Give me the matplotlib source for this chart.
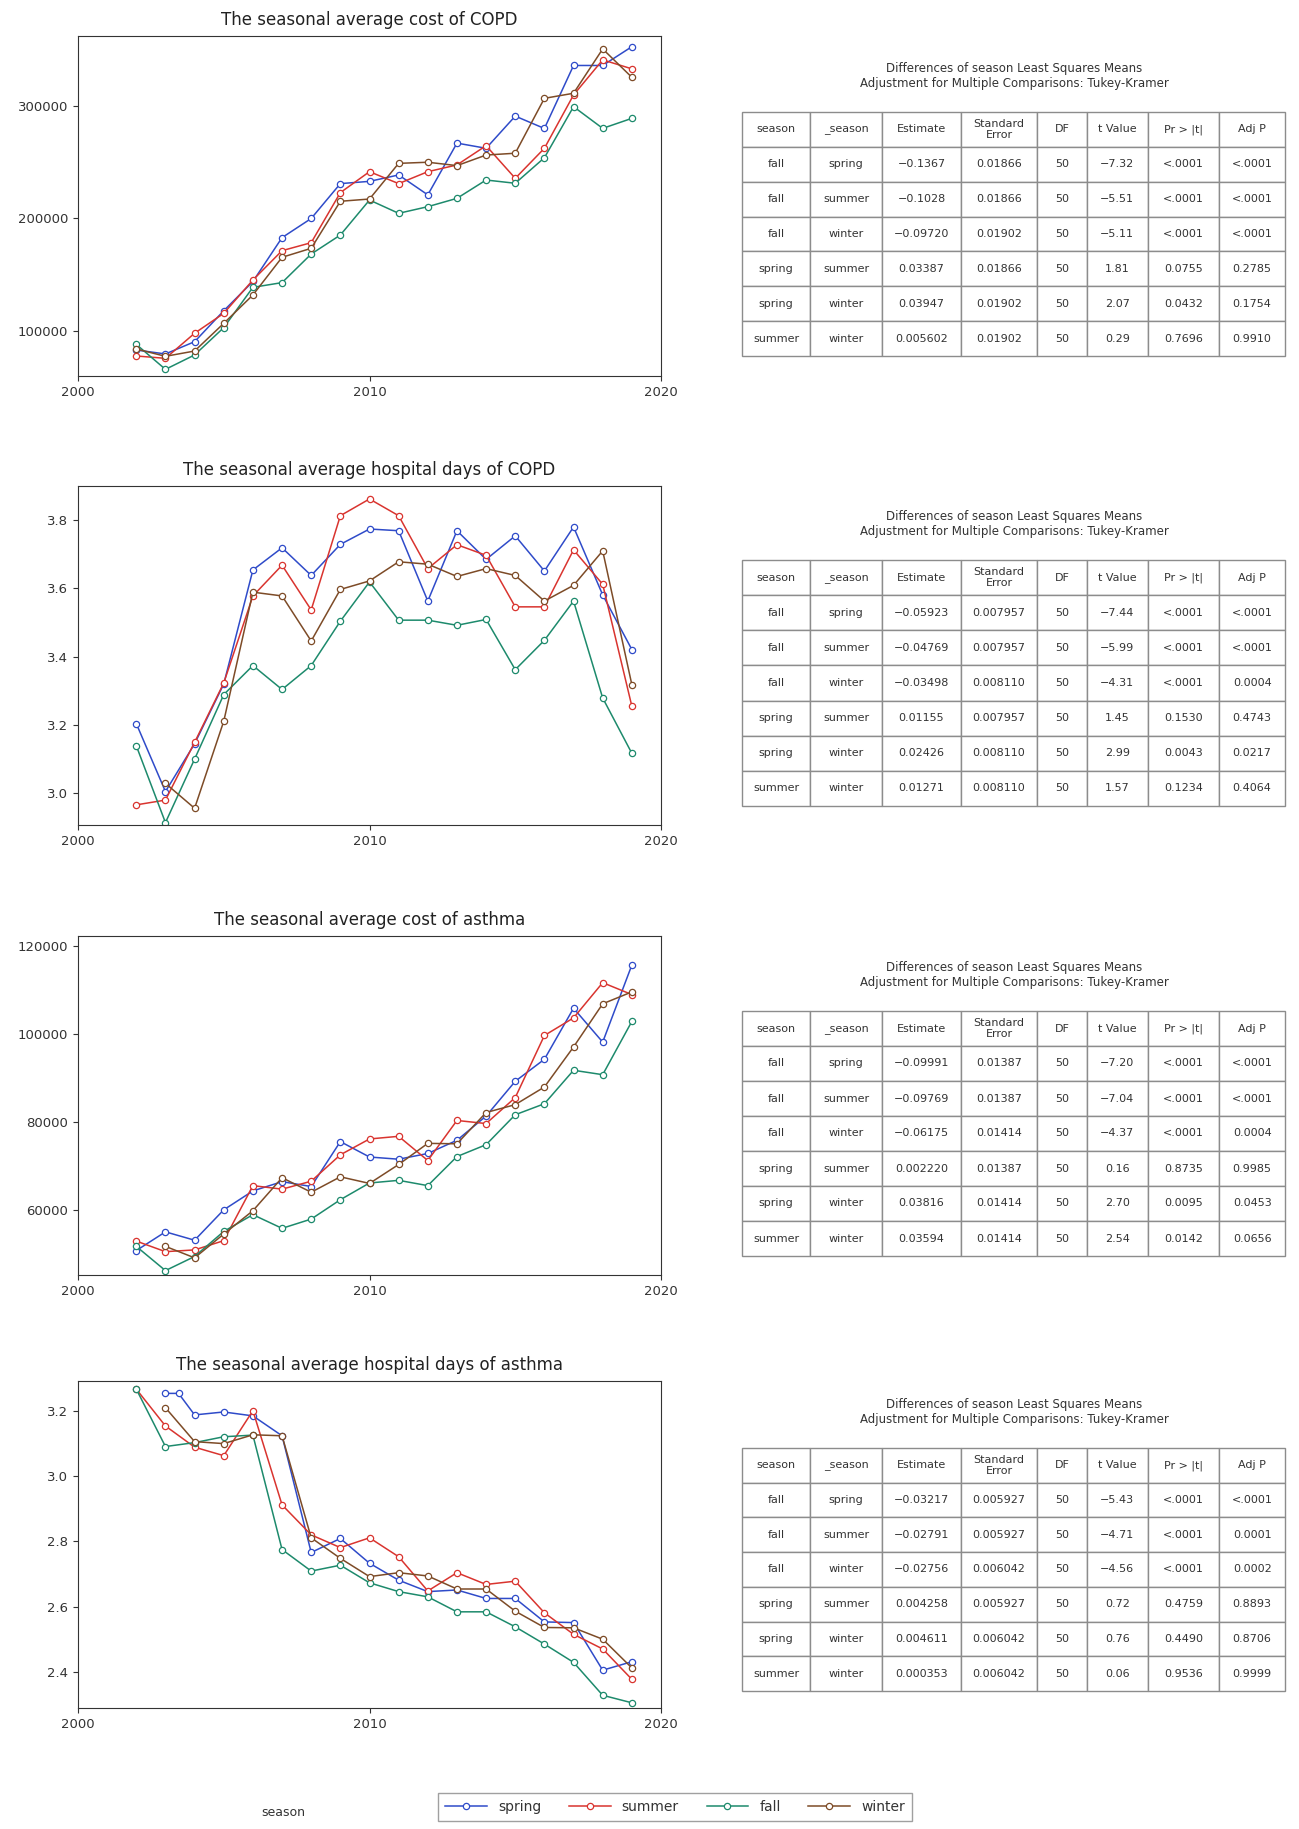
import numpy as np
import matplotlib.pyplot as plt

# x positions (years); the asthma-days plot has one extra spring point
years = [2002, 2003, 2004, 2005, 2006, 2007, 2008, 2009, 2010,
         2011, 2012, 2013, 2014, 2015, 2016, 2017, 2018, 2019]
years_ad = [2002, 2003, 2003.45, 2004, 2005, 2006, 2007, 2008, 2009, 2010,
            2011, 2012, 2013, 2014, 2015, 2016, 2017, 2018, 2019]
nan = np.nan

# seasonal average cost of COPD
copd_cost_spring = [83100, 79600, 90500, 118000, 144000, 183000, 200000, 231000, 233000,
                    238700, 221000, 267000, 262400, 291000, 280000, 336000, 336000, 352700]
copd_cost_summer = [77800, 75700, 98000, 115700, 145300, 171400, 178500, 223000, 241600,
                    231000, 241600, 247600, 264700, 235700, 262400, 309800, 341000, 333000]
copd_cost_fall = [88100, 65900, 78700, 103000, 138800, 143000, 168400, 185300, 216400,
                  204600, 210500, 217900, 234200, 231300, 254000, 299400, 280100, 289000]
copd_cost_winter = [84000, 77500, 82200, 106800, 132000, 165500, 173500, 215300, 217300,
                    249000, 250000, 247000, 256400, 258000, 306800, 311300, 350700, 325500]

# seasonal average hospital days of COPD
copd_days_spring = [3.204, 3.005, 3.145, 3.32, 3.654, 3.719, 3.638, 3.729, 3.774,
                    3.769, 3.563, 3.769, 3.685, 3.754, 3.651, 3.780, 3.581, 3.421]
copd_days_summer = [2.966, 2.980, 3.149, 3.323, 3.578, 3.668, 3.537, 3.813, 3.862,
                    3.813, 3.658, 3.728, 3.697, 3.546, 3.546, 3.713, 3.612, 3.255]
copd_days_fall = [3.139, 2.914, 3.100, 3.289, 3.374, 3.304, 3.374, 3.504, 3.619,
                  3.507, 3.507, 3.492, 3.509, 3.362, 3.448, 3.563, 3.279, 3.117]
copd_days_winter = [nan, 3.029, 2.956, 3.211, 3.589, 3.578, 3.446, 3.597, 3.622,
                    3.678, 3.671, 3.635, 3.658, 3.638, 3.563, 3.609, 3.710, 3.318]

# seasonal average cost of asthma
asth_cost_spring = [50750, 55000, 53100, 60000, 64300, 66400, 65300, 75500, 72000,
                    71500, 72800, 75800, 81300, 89200, 94200, 105800, 98100, 115600]
asth_cost_summer = [52900, 50500, 50900, 53000, 65500, 64700, 66500, 72500, 76100,
                    76700, 71200, 80300, 79600, 85500, 99600, 103600, 111600, 108900]
asth_cost_fall = [51700, 46200, 49400, 55100, 58900, 55800, 57900, 62300, 66100,
                  66700, 65500, 72100, 74800, 81600, 84100, 91700, 90700, 102800]
asth_cost_winter = [nan, 51700, 49100, 54500, 59800, 67300, 64000, 67500, 66000,
                    70300, 75100, 75000, 82100, 83900, 87900, 97000, 106800, 109500]

# seasonal average hospital days of asthma (x = years_ad)
asth_days_spring = [nan, 3.254, 3.254, 3.188, 3.197, 3.185, 3.124, 2.766, 2.809, 2.733,
                    2.681, 2.646, 2.651, 2.625, 2.625, 2.553, 2.551, 2.405, 2.431]
asth_days_summer = [3.267, 3.154, nan, 3.089, 3.063, 3.201, 2.912, 2.820, 2.781, 2.811,
                    2.753, 2.648, 2.704, 2.668, 2.678, 2.581, 2.515, 2.470, 2.377]
asth_days_fall = [3.267, 3.091, nan, 3.103, 3.121, 3.126, 2.775, 2.709, 2.727, 2.673,
                  2.646, 2.630, 2.584, 2.584, 2.538, 2.485, 2.429, 2.328, 2.305]
asth_days_winter = [nan, 3.21, nan, 3.106, 3.10, 3.127, 3.124, 2.811, 2.748, 2.692,
                    2.704, 2.694, 2.654, 2.654, 2.586, 2.536, 2.535, 2.500, 2.412]

season_names = ['spring', 'summer', 'fall', 'winter']
season_colors = ['#2f4bc9', '#d9342f', '#1d8a6c', '#7d4b27']

# Tukey-Kramer tables
col_labels = ['season', '_season', 'Estimate', 'Standard\nError', 'DF', 't Value', 'Pr > |t|', 'Adj P']
col_widths = [188, 198, 217, 210, 137, 168, 197, 181]
season_a = ['fall', 'fall', 'fall', 'spring', 'spring', 'summer']
season_b = ['spring', 'summer', 'winter', 'summer', 'winter', 'winter']
df_vals = ['50', '50', '50', '50', '50', '50']

est_1 = ['\u22120.1367', '\u22120.1028', '\u22120.09720', '0.03387', '0.03947', '0.005602']
se_1 = ['0.01866', '0.01866', '0.01902', '0.01866', '0.01902', '0.01902']
t_1 = ['\u22127.32', '\u22125.51', '\u22125.11', '1.81', '2.07', '0.29']
p_1 = ['<.0001', '<.0001', '<.0001', '0.0755', '0.0432', '0.7696']
adj_1 = ['<.0001', '<.0001', '<.0001', '0.2785', '0.1754', '0.9910']

est_2 = ['\u22120.05923', '\u22120.04769', '\u22120.03498', '0.01155', '0.02426', '0.01271']
se_2 = ['0.007957', '0.007957', '0.008110', '0.007957', '0.008110', '0.008110']
t_2 = ['\u22127.44', '\u22125.99', '\u22124.31', '1.45', '2.99', '1.57']
p_2 = ['<.0001', '<.0001', '<.0001', '0.1530', '0.0043', '0.1234']
adj_2 = ['<.0001', '<.0001', '0.0004', '0.4743', '0.0217', '0.4064']

est_3 = ['\u22120.09991', '\u22120.09769', '\u22120.06175', '0.002220', '0.03816', '0.03594']
se_3 = ['0.01387', '0.01387', '0.01414', '0.01387', '0.01414', '0.01414']
t_3 = ['\u22127.20', '\u22127.04', '\u22124.37', '0.16', '2.70', '2.54']
p_3 = ['<.0001', '<.0001', '<.0001', '0.8735', '0.0095', '0.0142']
adj_3 = ['<.0001', '<.0001', '0.0004', '0.9985', '0.0453', '0.0656']

est_4 = ['\u22120.03217', '\u22120.02791', '\u22120.02756', '0.004258', '0.004611', '0.000353']
se_4 = ['0.005927', '0.005927', '0.006042', '0.005927', '0.006042', '0.006042']
t_4 = ['\u22125.43', '\u22124.71', '\u22124.56', '0.72', '0.76', '0.06']
p_4 = ['<.0001', '<.0001', '<.0001', '0.4759', '0.4490', '0.9536']
adj_4 = ['<.0001', '0.0001', '0.0002', '0.8893', '0.8706', '0.9999']

table_title = 'Differences of season Least Squares Means\nAdjustment for Multiple Comparisons: Tukey-Kramer'

W, H = 1299, 1829
fig = plt.figure(figsize=(W / 100, H / 100), dpi=100)


def fx(px):
    return px / W


def fy(px):
    return 1 - px / H


def draw_panel(top, bottom, x, series, title, ylim, yticks):
    ax = fig.add_axes([fx(78), fy(bottom), fx(661) - fx(78), (bottom - top) / H])
    x = np.array(x, dtype=float)
    for vals, name, c in zip(series, season_names, season_colors):
        v = np.array(vals, dtype=float)
        ok = ~np.isnan(v)
        ax.plot(x[ok], v[ok], color=c, lw=1.1, marker='o', ms=4.5,
                mfc='white', mec=c, mew=0.9, label=name)
    ax.set_xlim(2000, 2020)
    ax.set_xticks([2000, 2010, 2020])
    ax.set_ylim(*ylim)
    ax.set_yticks(yticks)
    ax.set_title(title, fontsize=12, color='#222222', pad=8)
    ax.tick_params(labelsize=9.5, colors='#333333')
    for s in ax.spines.values():
        s.set_color('#333333')
    return ax


def draw_table(top, bottom, est, se, t, p, adj):
    ax = fig.add_axes([fx(742), fy(bottom), fx(1285) - fx(742), (bottom - top) / H])
    ax.axis('off')
    rows = [list(r) for r in zip(season_a, season_b, est, se, df_vals, t, p, adj)]
    tw = np.array(col_widths, dtype=float)
    tbl = ax.table(cellText=rows, colLabels=col_labels, colWidths=list(tw / tw.sum()),
                   cellLoc='center', bbox=[0, 0, 1, 1])
    tbl.auto_set_font_size(False)
    tbl.set_fontsize(8)
    for cell in tbl.get_celld().values():
        cell.set_edgecolor('#8c8c8c')
        cell.set_linewidth(1.0)
        cell.get_text().set_color('#333333')
    fig.text(fx(1014), fy(top - 36), table_title, ha='center', va='center',
             fontsize=8.5, color='#333333', linespacing=1.25)


ax1 = draw_panel(36, 376, years,
                 [copd_cost_spring, copd_cost_summer, copd_cost_fall, copd_cost_winter],
                 'The seasonal average cost of COPD', (60000, 362200), [100000, 200000, 300000])
draw_panel(486, 825, years,
           [copd_days_spring, copd_days_summer, copd_days_fall, copd_days_winter],
           'The seasonal average hospital days of COPD', (2.907, 3.90), [3.0, 3.2, 3.4, 3.6, 3.8])
draw_panel(936, 1275, years,
           [asth_cost_spring, asth_cost_summer, asth_cost_fall, asth_cost_winter],
           'The seasonal average cost of asthma', (45200, 122200), [60000, 80000, 100000, 120000])
draw_panel(1381, 1708, years_ad,
           [asth_days_spring, asth_days_summer, asth_days_fall, asth_days_winter],
           'The seasonal average hospital days of asthma', (2.289, 3.292), [2.4, 2.6, 2.8, 3.0, 3.2])

draw_table(112, 356, est_1, se_1, t_1, p_1, adj_1)
draw_table(560, 806, est_2, se_2, t_2, p_2, adj_2)
draw_table(1011, 1256, est_3, se_3, t_3, p_3, adj_3)
draw_table(1448, 1691, est_4, se_4, t_4, p_4, adj_4)

handles, labels = ax1.get_legend_handles_labels()
leg = fig.legend(handles, labels, loc='center', bbox_to_anchor=(fx(675), fy(1807)),
                 ncol=4, fontsize=10, handlelength=3, columnspacing=2.0,
                 fancybox=False, edgecolor='#888888', borderpad=0.5)
leg.get_frame().set_linewidth(1.0)
for txt in leg.get_texts():
    txt.set_color('#333333')
fig.text(fx(283), fy(1812), 'season', ha='center', va='center', fontsize=9, color='#333333')

fig.savefig('out.png', dpi=100, facecolor='white')
